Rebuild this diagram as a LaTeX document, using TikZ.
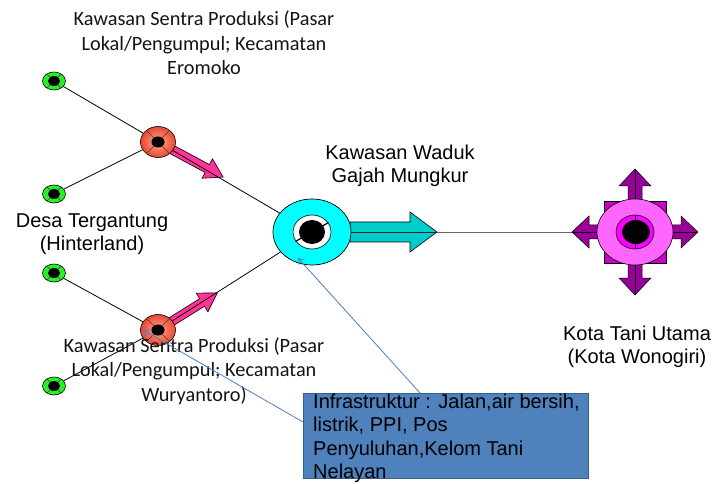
\documentclass[tikz,border=0pt]{standalone}
\usepackage{fontspec}
\setmainfont{Liberation Sans}
\newfontfamily\calib{Carlito}
\usetikzlibrary{shapes.geometric,arrows.meta,calc}
\pgfdeclarelayer{bg}
\pgfsetlayers{bg,main}
\definecolor{grn}{RGB}{40,240,40}
\definecolor{redin}{RGB}{255,170,140}
\definecolor{redout}{RGB}{235,70,50}
\definecolor{cyn}{RGB}{0,255,255}
\definecolor{cyarrow}{RGB}{0,204,204}
\definecolor{mgsq}{RGB}{204,0,204}
\definecolor{mgell}{RGB}{255,102,255}
\definecolor{mgin}{RGB}{255,0,255}
\definecolor{mgarrow}{RGB}{153,0,153}
\definecolor{pinkc}{RGB}{255,51,153}
\definecolor{boxblue}{RGB}{79,129,189}
\definecolor{boxborder}{RGB}{56,93,138}
\definecolor{callblue}{RGB}{74,126,193}
\begin{document}
\begin{tikzpicture}[x=1pt,y=-1pt,
  every node/.style={inner sep=0pt},
  lbl/.style={align=center,font=\fontsize{20}{23.5}\selectfont},
  clbl/.style={align=center,font=\calib\fontsize{20.3}{24.5}\selectfont,text=black!92},
  gnode/.style={ellipse,draw=black,line width=0.6pt,fill=grn,minimum width=23pt,minimum height=18pt},
  rnode/.style={ellipse,draw=black,line width=0.6pt,shading=radial,inner color=redin,outer color=redout,minimum width=35pt,minimum height=31pt},
  conn/.style={black,line width=0.8pt},
  callout/.style={draw=callblue,line width=0.8pt,-{Straight Barb[length=5pt,width=7pt]}},
  pinkarrow/.style={fill=pinkc,draw=black,line width=0.6pt},
  mgarrowstyle/.style={fill=mgarrow,draw=black,line width=0.5pt}
]
\useasboundingbox (0,0) rectangle (713,484);

% nodes
\node[gnode] (g1) at (54,81) {};
\node[gnode] (g2) at (54,194) {};
\node[gnode] (g3) at (54,273) {};
\node[gnode] (g4) at (54,386) {};
\node[rnode] (r1) at (158,142) {};
\node[rnode] (r2) at (158,330) {};
\node[ellipse,draw=black,line width=0.7pt,fill=cyn,minimum width=78pt,minimum height=66pt] (cy) at (312,232) {};

% magenta hub
\coordinate (mgc) at (635,232);
\foreach \r in {0,90,180,270}{
  \begin{scope}[shift={(mgc)},rotate=\r]
    \filldraw[mgarrowstyle] (20,-7) -- (46,-7) -- (46,-16) -- (63,0) -- (46,16) -- (46,7) -- (20,7) -- cycle;
    \draw[line width=0.5pt] (20,0) -- (63,0);
  \end{scope}
}
\node[draw=black,line width=0.5pt,fill=mgsq,minimum size=62pt] (mgsq) at (mgc) {};
\node[ellipse,draw=black,line width=0.6pt,fill=mgell,minimum width=76pt,minimum height=66pt] (mg) at (mgc) {};

% node decorations
\foreach \n in {g1,g2,g3,g4}{
  \fill (\n) ellipse (6 and 5);
  \foreach \a in {45,135,225,315}
    \draw[line width=0.5pt,black!75] (\n.\a) -- ($(\n)!0.5!(\n.\a)$);
}
\foreach \n in {r1,r2}{
  \fill (\n) ellipse (6.5 and 5.5);
  \foreach \a in {45,135,225,315}
    \draw[line width=0.5pt,black!75] (\n.\a) -- ($(\n)!0.35!(\n.\a)$);
}
\filldraw[fill=white,draw=black,line width=0.6pt] (cy) ellipse (19 and 17);
\fill (cy) ellipse (13 and 12);
\draw[line width=1.2pt] ($(cy)+(-30:12)$) -- ($(cy)+(-30:19)$);
\draw[line width=1.2pt] ($(cy)+(150:12)$) -- ($(cy)+(150:19)$);
\filldraw[fill=mgin,draw=black,line width=0.6pt] (mg) ellipse (19 and 17);
\fill ($(mg)+(1,0)$) ellipse (14 and 12);
\draw[line width=0.5pt] ($(mg)+(0,-17)$) -- ($(mg)+(0,-12)$);
\draw[line width=0.5pt] ($(mg)+(0,17)$) -- ($(mg)+(0,12)$);

% background: arrows and connectors
\begin{pgfonlayer}{bg}
  \begin{scope}[shift={(r1.center)},rotate=-28.3]
    \filldraw[pinkarrow] (14,-4.5) -- (56,-4.5) -- (56,-11) -- (74,0) -- (56,11) -- (56,4.5) -- (14,4.5) -- cycle;
  \end{scope}
  \begin{scope}[shift={(r2.center)},rotate=32]
    \filldraw[pinkarrow] (14,-4.5) -- (52,-4.5) -- (52,-11) -- (70,0) -- (52,11) -- (52,4.5) -- (14,4.5) -- cycle;
  \end{scope}
  \draw[line width=0.9pt,black!60] (cy) -- (mg);
  \filldraw[fill=cyarrow,draw=black,line width=0.6pt] (350,222) -- (410,222) -- (410,212) -- (437,232) -- (410,252) -- (410,242) -- (350,242) -- cycle;
  \coordinate (cyt) at (437,232);
  \draw[line width=0.8pt,black!85] (cy) -- (cyt);
  \draw[conn] (g1) -- (cy);
  \draw[conn] (g2) -- (r1);
  \draw[conn] (g3) -- (r2);
  \draw[conn] (g4) -- (r2) -- (cy);
\end{pgfonlayer}

% labels
\node[clbl] (lblTop) at (204,43) {Kawasan Sentra Produksi (Pasar\\Lokal/Pengumpul; Kecamatan\\Eromoko};
\node[clbl] (lblBot) at (194,371) {Kawasan Sentra Produksi (Pasar\\Lokal/Pengumpul; Kecamatan\\Wuryantoro)};
\node[lbl] (lblDesa) at (92,234) {Desa Tergantung\\(Hinterland)};
\node[lbl] (lblWaduk) at (400,166) {Kawasan Waduk\\Gajah Mungkur};
\node[lbl] (lblKota) at (637,347) {Kota Tani Utama\\(Kota Wonogiri)};

% callout box
\node[draw=boxborder,fill=boxblue,line width=1.2pt,minimum width=285pt,minimum height=85pt,anchor=north west] (box) at (303,393) {};
\node[lbl,align=left,anchor=north west] (info) at (313,393.5) {Infrastruktur : Jalan,air bersih,\\listrik, PPI, Pos\\Penyuluhan,Kelom Tani\\Nelayan};

% callouts
\coordinate (t1) at (143,330);
\coordinate (t2) at (298,258);
\coordinate (c1) at (303,422);
\coordinate (c2) at (420,393);
\draw[callout] (c1) -- (t1);
\draw[callout] (c2) -- (t2);
\end{tikzpicture}
\end{document}
